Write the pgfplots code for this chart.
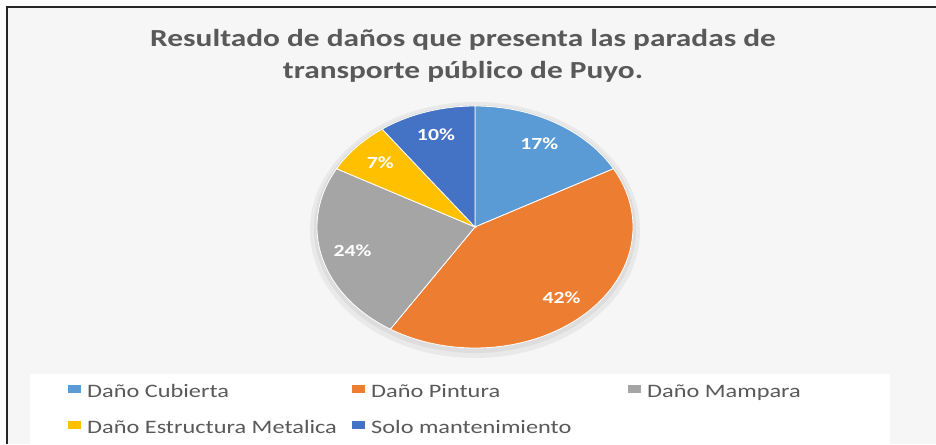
\documentclass[border=0pt]{standalone}
\usepackage{pgfplots}
\usepackage{pgfplotstable}
\pgfplotsset{compat=1.18}
\usepackage{fontspec}
\setmainfont{Carlito}

\definecolor{cubierta}{HTML}{5B9BD5}
\definecolor{pintura}{HTML}{ED7D31}
\definecolor{mampara}{HTML}{A5A5A5}
\definecolor{estructura}{HTML}{FFC000}
\definecolor{solo}{HTML}{4472C4}
\definecolor{txtgray}{HTML}{595959}
\definecolor{bggray}{HTML}{F6F6F6}

% share of each damage type (%)
\pgfplotstableread[col sep=comma]{
label,value
Daño Cubierta,17
Daño Pintura,42
Daño Mampara,24
Daño Estructura Metalica,7
Solo mantenimiento,10
}\piedata

\newcommand\getval[2]{\pgfplotstablegetelem{#1}{value}\of\piedata\let#2\pgfplotsretval}
\newcommand\hs[1]{\scalebox{1.28}[1]{#1}}

\getval{0}\vA
\getval{1}\vB
\getval{2}\vC
\getval{3}\vD
\getval{4}\vE
% slice boundaries, clockwise from the top
\pgfmathsetmacro\aA{90}
\pgfmathsetmacro\aB{\aA-3.6*\vA}
\pgfmathsetmacro\aC{\aB-3.6*\vB}
\pgfmathsetmacro\aD{\aC-3.6*\vC}
\pgfmathsetmacro\aE{\aD-3.6*\vD}
\pgfmathsetmacro\aF{\aE-3.6*\vE}
\def\cx{475}\def\cy{227}\def\rx{158}\def\ry{121}

\newcommand\pielabel[3]{% angle1 angle2 text
  \pgfmathsetmacro\lx{\cx+0.8*\rx*cos((#1+#2)/2)}%
  \pgfmathsetmacro\ly{\cy-0.8*\ry*sin((#1+#2)/2)}%
  \edef\tmp{\noexpand\node[text=white, font=\noexpand\bfseries\noexpand\fontsize{17}{17}\noexpand\selectfont]
    at (axis cs:\lx,\ly) {\noexpand\hs{#3\noexpand\%}};}%
  \tmp}
\newcommand\legitem[4]{% x, baseline y, colour, text
  \fill[#3] (axis cs:#1,#2-12) rectangle (axis cs:#1+13,#2-4);%
  \node[anchor=base west, inner sep=0pt, text=txtgray,
    font=\fontsize{19}{19}\selectfont] at (axis cs:#1+19,#2) {\hs{#4}};}

\begin{document}
\begin{tikzpicture}
\begin{axis}[
  width=936pt, height=444pt, scale only axis,
  xmin=0, xmax=936, ymin=0, ymax=444,
  y dir=reverse,
  hide axis, clip=false]

  % chart frame
  \fill[white] (axis cs:0,0) rectangle (axis cs:936,444);
  \fill[bggray] (axis cs:7,7) rectangle (axis cs:936,444);
  \fill[white] (axis cs:30,374) rectangle (axis cs:890,444);
  \draw[black!85, line width=2.5pt] (axis cs:7,444) -- (axis cs:7,7) -- (axis cs:936,7);

  % title
  \node[anchor=base, text=txtgray, font=\bfseries\fontsize{24.5}{24.5}\selectfont]
    at (axis cs:463,46) {\hs{Resultado de daños que presenta las paradas de}};
  \node[anchor=base, text=txtgray, font=\bfseries\fontsize{24.5}{24.5}\selectfont]
    at (axis cs:463,78) {\hs{transporte público de Puyo.}};

  % soft shadow
  \fill[black, opacity=0.05] (axis cs:\cx,\cy+3) ellipse [x radius=165pt, y radius=128pt];
  \fill[black, opacity=0.05] (axis cs:\cx,\cy+2) ellipse [x radius=161pt, y radius=124pt];

  \addplot[fill=cubierta, draw=white, line width=0.8pt, domain=\aB:\aA, samples=50, variable=\t]
    ({\cx+\rx*cos(\t)},{\cy-\ry*sin(\t)}) -- (axis cs:\cx,\cy) -- cycle;
  \addplot[fill=pintura, draw=white, line width=0.8pt, domain=\aC:\aB, samples=90, variable=\t]
    ({\cx+\rx*cos(\t)},{\cy-\ry*sin(\t)}) -- (axis cs:\cx,\cy) -- cycle;
  \addplot[fill=mampara, draw=white, line width=0.8pt, domain=\aD:\aC, samples=60, variable=\t]
    ({\cx+\rx*cos(\t)},{\cy-\ry*sin(\t)}) -- (axis cs:\cx,\cy) -- cycle;
  \addplot[fill=estructura, draw=white, line width=0.8pt, domain=\aE:\aD, samples=30, variable=\t]
    ({\cx+\rx*cos(\t)},{\cy-\ry*sin(\t)}) -- (axis cs:\cx,\cy) -- cycle;
  \addplot[fill=solo, draw=white, line width=0.8pt, domain=\aF:\aE, samples=30, variable=\t]
    ({\cx+\rx*cos(\t)},{\cy-\ry*sin(\t)}) -- (axis cs:\cx,\cy) -- cycle;

  \pielabel{\aA}{\aB}{\vA}
  \pielabel{\aB}{\aC}{\vB}
  \pielabel{\aC}{\aD}{\vC}
  \pielabel{\aD}{\aE}{\vD}
  \pielabel{\aE}{\aF}{\vE}

  % legend
  \legitem{68}{397}{cubierta}{Daño Cubierta}
  \legitem{352}{397}{pintura}{Daño Pintura}
  \legitem{628}{397}{mampara}{Daño Mampara}
  \legitem{68}{433}{estructura}{Daño Estructura Metalica}
  \legitem{352}{433}{solo}{Solo mantenimiento}
\end{axis}
\pgfresetboundingbox
\path (current axis.south west) rectangle (current axis.north east);
\end{tikzpicture}
\end{document}
